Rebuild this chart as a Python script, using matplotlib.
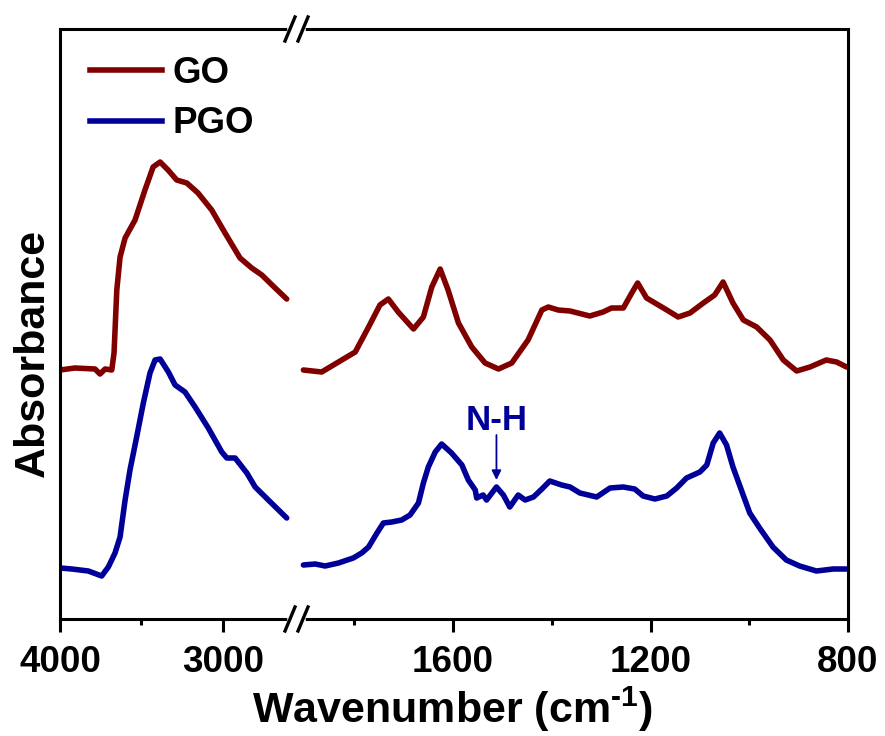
import matplotlib
matplotlib.use("Agg")
import matplotlib.pyplot as plt
from matplotlib.lines import Line2D

# FTIR spectra of GO and PGO (absorbance, arbitrary units)
go_hi_wn = [4000, 3908, 3785, 3754, 3723, 3682, 3668, 3651, 3631, 3600, 3539, 3478,
            3428, 3385, 3336, 3283, 3221, 3152, 3068, 2986, 2894, 2822, 2760, 2678, 2607]
go_hi_abs = [2.49, 2.51, 2.50, 2.45, 2.50, 2.49, 2.66, 3.29, 3.62, 3.81, 3.99, 4.29,
             4.52, 4.57, 4.49, 4.39, 4.36, 4.26, 4.09, 3.86, 3.61, 3.51, 3.44, 3.31, 3.20]

pgo_hi_wn = [4000, 3928, 3826, 3744, 3703, 3662, 3631, 3600, 3570, 3529, 3488, 3447, 3416,
             3385, 3334, 3293, 3232, 3170, 3089, 3006, 2975, 2924, 2852, 2801, 2720, 2607]
pgo_hi_abs = [0.51, 0.50, 0.48, 0.43, 0.52, 0.66, 0.82, 1.19, 1.49, 1.82, 2.16, 2.46, 2.59,
              2.60, 2.47, 2.34, 2.27, 2.12, 1.91, 1.67, 1.61, 1.61, 1.46, 1.32, 1.19, 1.01]

go_lo_wn = [1903, 1866, 1832, 1798, 1771, 1748, 1731, 1711, 1680, 1660, 1643, 1626,
            1610, 1589, 1562, 1535, 1508, 1481, 1448, 1420, 1407, 1387, 1363, 1323,
            1296, 1279, 1255, 1238, 1226, 1208, 1184, 1167, 1144, 1120, 1093, 1070,
            1053, 1033, 1012, 985, 958, 931, 904, 877, 844, 823, 803]
go_lo_abs = [2.49, 2.47, 2.57, 2.67, 2.92, 3.14, 3.20, 3.07, 2.90, 3.02, 3.32, 3.50,
             3.29, 2.96, 2.72, 2.56, 2.50, 2.56, 2.79, 3.09, 3.12, 3.09, 3.08, 3.03,
             3.07, 3.11, 3.11, 3.26, 3.36, 3.21, 3.14, 3.09, 3.02, 3.06, 3.16, 3.24,
             3.37, 3.16, 2.99, 2.92, 2.79, 2.59, 2.48, 2.52, 2.59, 2.57, 2.52]

pgo_lo_wn = [1903, 1879, 1859, 1832, 1802, 1785, 1771, 1754, 1741, 1724, 1704, 1687,
             1670, 1660, 1650, 1636, 1623, 1603, 1582, 1569, 1555, 1552, 1539, 1532,
             1512, 1498, 1485, 1468, 1454, 1437, 1420, 1404, 1380, 1363, 1343, 1309,
             1282, 1255, 1232, 1215, 1191, 1167, 1147, 1127, 1100, 1086, 1073, 1060,
             1046, 1033, 1016, 999, 979, 952, 925, 898, 864, 830, 803]
pgo_lo_abs = [0.54, 0.55, 0.53, 0.56, 0.61, 0.66, 0.72, 0.86, 0.96, 0.97, 0.99, 1.04,
              1.16, 1.36, 1.52, 1.67, 1.75, 1.66, 1.54, 1.39, 1.29, 1.21, 1.24, 1.19,
              1.32, 1.24, 1.12, 1.24, 1.19, 1.22, 1.30, 1.38, 1.34, 1.32, 1.26, 1.22,
              1.31, 1.32, 1.30, 1.23, 1.20, 1.23, 1.31, 1.41, 1.47, 1.54, 1.76, 1.86,
              1.74, 1.52, 1.29, 1.06, 0.91, 0.72, 0.59, 0.53, 0.48, 0.50, 0.50]

labels = ["GO", "PGO"]
nh_wn, nh_abs = 1512, 1.39

GO_COLOR = "#800000"
PGO_COLOR = "#000099"

plt.rcParams["font.family"] = ["Liberation Sans", "DejaVu Sans"]
plt.rcParams["font.weight"] = "bold"
plt.rcParams["mathtext.fontset"] = "custom"
plt.rcParams["mathtext.rm"] = "Liberation Sans:bold"
plt.rcParams["mathtext.bf"] = "Liberation Sans:bold"
plt.rcParams["mathtext.default"] = "bf"

W, H = 885, 736
fig = plt.figure(figsize=(W / 100, H / 100), dpi=100)

# pixel layout of the broken axis
x0, xb, x1 = 60, 296, 848
ytop, ybot = 29, 619
bottom = (H - ybot) / H
height = (ybot - ytop) / H
ax1 = fig.add_axes([x0 / W, bottom, (xb - x0) / W, height])
ax2 = fig.add_axes([xb / W, bottom, (x1 - xb) / W, height])

lw = 4.0
for ax in (ax1, ax2):
    ax.set_ylim(0, 5.9)
    ax.set_yticks([])
    for s in ax.spines.values():
        s.set_linewidth(2.2)
    ax.tick_params(axis="x", which="both", direction="out", width=2.2,
                   labelsize=26.5, pad=9, top=False)
    ax.tick_params(axis="x", which="major", length=9.5)
    ax.tick_params(axis="x", which="minor", length=4.3)

ax1.spines["right"].set_visible(False)
ax2.spines["left"].set_visible(False)

ax1.set_xlim(4000, 2550)
ax1.set_xticks([4000, 3000])
ax1.set_xticks([3500], minor=True)

ax2.set_xlim(1918, 800)
ax2.set_xticks([1600, 1200, 800])
ax2.set_xticks([1800, 1400, 1000], minor=True)

kw = dict(lw=lw, solid_joinstyle="round", solid_capstyle="round")
ax1.plot(go_hi_wn, go_hi_abs, color=GO_COLOR, **kw)
ax1.plot(pgo_hi_wn, pgo_hi_abs, color=PGO_COLOR, **kw)
ax2.plot(go_lo_wn, go_lo_abs, color=GO_COLOR, **kw)
ax2.plot(pgo_lo_wn, pgo_lo_abs, color=PGO_COLOR, **kw)

# N-H marker
ax2.text(nh_wn, 1.89, "N-H", color=PGO_COLOR, fontsize=25, fontweight="bold",
         ha="center", va="baseline")
ax2.annotate("", xy=(nh_wn, nh_abs), xytext=(nh_wn, 1.84),
             arrowprops=dict(arrowstyle="-|>", color=PGO_COLOR, lw=1.3,
                             mutation_scale=14, shrinkA=0, shrinkB=0))

# break marks on top and bottom spines
def fx(px):
    return px / W

def fy(py):
    return 1 - py / H

for yy in (ytop, ybot):
    fig.add_artist(Line2D([fx(290), fx(303)], [fy(yy), fy(yy)], color="white",
                          lw=4, zorder=10, transform=fig.transFigure))
    for cx in (290, 303):
        fig.add_artist(Line2D([fx(cx - 5), fx(cx + 5)], [fy(yy + 12), fy(yy - 12)],
                              color="black", lw=2.4, zorder=11,
                              transform=fig.transFigure))

handles = [Line2D([], [], color=GO_COLOR, lw=lw), Line2D([], [], color=PGO_COLOR, lw=lw)]
fig.legend(handles, labels, loc="upper left", bbox_to_anchor=(fx(90), fy(56)),
           frameon=False, handlelength=1.95, handletextpad=0.3,
           labelspacing=0.42, borderpad=0, borderaxespad=0,
           prop=dict(weight="bold", size=26.5))

fig.text(fx(452), fy(723), r"Wavenumber (cm$^{\text{-1}}$)", fontsize=31,
         fontweight="bold", ha="center", va="baseline")
fig.text(fx(33), fy(353), "Absorbance", fontsize=31, fontweight="bold",
         ha="center", va="center", rotation=90)

fig.savefig("out.png", dpi=100)
